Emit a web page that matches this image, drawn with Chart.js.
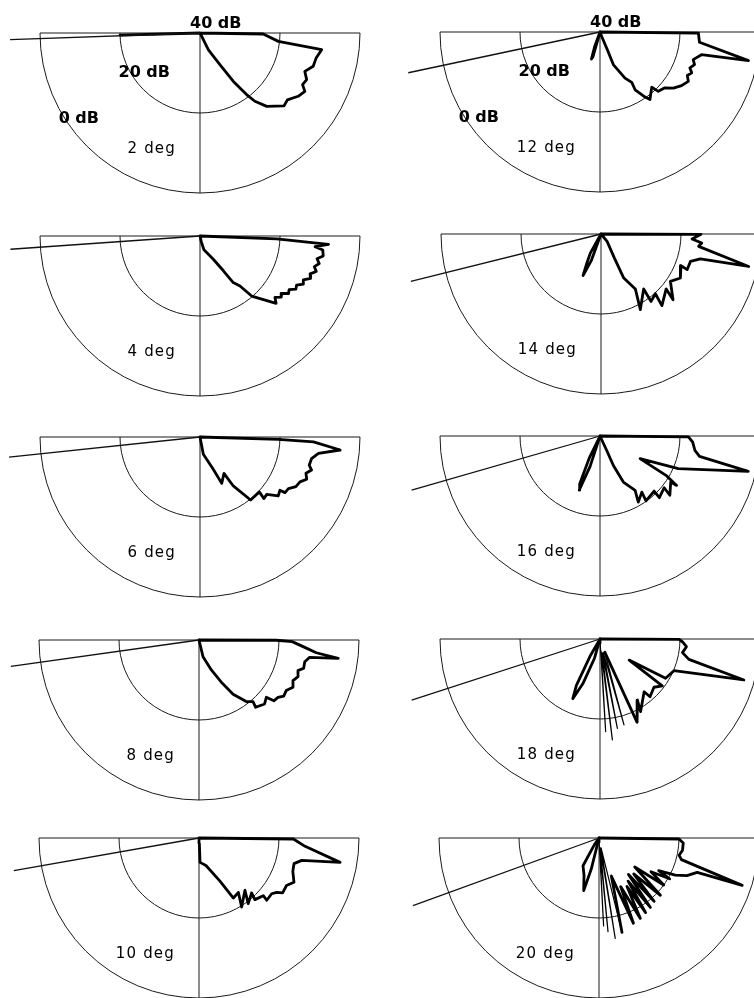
<!DOCTYPE html>
<html><head><meta charset="utf-8">
<script src="https://cdn.jsdelivr.net/npm/chart.js@4.4.1/dist/chart.umd.min.js"></script>
<style>
html,body{margin:0;padding:0;background:#fff;width:754px;height:998px;overflow:hidden;position:relative}
canvas{position:absolute}
</style></head><body>
<script>
// ---------- DATA ----------
// grazing (incidence) angle of each panel, degrees
const incidence = [2, 4, 6, 8, 10, 12, 14, 16, 18, 20];
const panelLabels = ["2 deg", "4 deg", "6 deg", "8 deg", "10 deg", "12 deg", "14 deg", "16 deg", "18 deg", "20 deg"];
// radial axis: centre = 40 dB, rings at 20 dB and 0 dB
const centreDb = 40;
const ringDb = [20, 0];
const ringLabels = ["40 dB", "20 dB", "0 dB"];

// scattered level curves: [angle below horizontal (deg, 0 = right), level (dB)]
const deg2 = [[0,40],[0.9,24.2],[6.1,20.3],[7.8,9.3],[12.2,10.3],[16.4,10.5],[20.1,12.1],[23.6,10.9],[26.7,11.3],[29.1,10.0],[32.8,10.8],[37.4,12.5],[40.9,12.2],[47.7,15.2],[51.2,18.1],[52.9,20.7],[55.4,25.3],[57.7,30.6],[63.4,35.3],[63.4,39.1],[90,40],[178.5,20],[180,40]];
const deg4 = [[0,40],[2.2,20.8],[3.7,7.8],[5.3,11.1],[6.5,9.1],[9.2,8.8],[11,10.2],[13,9.4],[15,10.4],[17,9.6],[19,10.9],[21,10.4],[23,11.9],[25,11.5],[27,12.9],[29,12.6],[31,14.0],[33,13.6],[35,15.0],[37,14.6],[39.3,15.8],[41.5,14.6],[49.3,20.2],[51.3,24.0],[54.5,25.7],[56.1,29.6],[60.3,33.3],[74,36.4],[77,38.5],[90,40]];
const deg6 = [[0,40],[1.7,20.4],[2.5,11.6],[5.3,4.8],[7.9,10.1],[11.0,11.6],[14.5,11.8],[16.5,10.9],[18.9,12.0],[21.6,11.3],[24.2,12.6],[27.4,13.0],[30.3,14.4],[33.2,14.6],[33.7,16.0],[37.0,15.5],[40.7,18.0],[43.9,17.8],[42.8,19.8],[51.2,19.8],[55.8,25.2],[56.6,29.1],[64.9,27.2],[67.6,31.3],[79.1,35.6],[90,40]];
const deg8 = [[0,40],[0.2,20.7],[1.0,16.7],[4.0,13.5],[6.2,10.5],[7.5,4.9],[8.9,12.0],[11.6,13.0],[15.1,12.9],[17.2,14.1],[20.3,13.6],[23.4,14.4],[26.7,13.7],[30.1,14.8],[33.5,14.6],[36.0,15.6],[39.1,15.9],[40.4,17.9],[44.3,17.1],[49.9,18.0],[48.8,19.5],[52.5,20.6],[57.8,24.0],[61.7,27.7],[67.6,31.9],[76.5,35.7],[90,40]];
const deg10 = [[0,40],[0.6,16.4],[4.5,13.4],[9.8,4.2],[12.3,13.7],[15.1,15.4],[19.6,15.1],[25.0,13.8],[28.5,15.1],[33.3,15.0],[35.0,16.3],[37.5,17.1],[42.6,17.0],[41.9,18.4],[47.8,19.2],[46.2,21.0],[53.1,19.5],[48.7,22.6],[58.3,19.7],[54.1,23.2],[60.2,22.7],[64.1,28.0],[75.8,32.9],[87.6,33.9],[86,38.7],[90,40]];
const deg12 = [[0,40],[0.6,15.4],[5.9,15.0],[10.9,2.2],[12.6,14.0],[16.5,15.7],[19,15.0],[21.8,15.8],[24,14.9],[26.5,15.6],[29.2,14.7],[33.3,15.6],[37.4,16.9],[40.7,18.6],[45.5,19.2],[46.8,21.1],[53.5,19.0],[55.3,20.2],[58.7,23.1],[57.8,25.1],[61.5,26.9],[67.8,31.2],[67.5,35.2],[69,38.8],[90,40],[103,40],[106,33.5],[107.5,32.9],[110,36],[112,40]];
const deg14 = [[0,40],[0.2,15.0],[3.1,17.2],[5.1,14.7],[7.2,15.4],[12.4,2.2],[14.1,14.4],[17.0,16.6],[22.5,16.7],[21.6,18.5],[29.0,17.3],[34.3,19.0],[42.4,15.6],[40.1,18.7],[49.6,16.5],[47.7,19.8],[53.4,19.0],[52.2,22.6],[62.5,18.7],[58.0,23.8],[62.7,27.6],[60.9,33.1],[50.7,37.6],[90,40],[107,40],[110,33],[113.4,28.7],[116,32],[119.3,34.6],[124,40]];
const deg16 = [[0,40],[0.6,17.9],[3.7,16.8],[8.6,16.0],[11.6,14.6],[13.4,1.9],[22.6,18.8],[29.5,28.5],[30.8,20.8],[32.8,17.2],[33.1,18.9],[40.3,17.1],[38.9,19.4],[46.1,18.6],[45.5,20.7],[54.7,20.1],[53.3,22.5],[59.9,20.9],[57.2,23.8],[63.1,27.1],[65.6,31.9],[65.1,36.0],[90,40],[105,40],[108,32],[111,25.5],[113,27],[116,34],[118,40]];
const deg18 = [[0,40],[0.2,20.3],[1.9,19.4],[5.1,18.3],[9.4,19.1],[12.9,17.2],[15.9,2.6],[23.2,19.9],[30.9,20.9],[35.9,31.0],[37.0,20.5],[41.8,21.9],[49.1,20.9],[50.1,22.8],[60.8,19.2],[58.5,22.1],[66,17.2],[70,36.5],[74.4,17.7],[76,36.5],[79,17.25],[81,36.5],[83,14.6],[85,37],[86.5,16.8],[88,39],[90,40],[104,40],[106,35],[111,28],[114.5,23.6],[117,27],[120,35],[123,40]];
const deg20 = [[0,40],[0.7,20.0],[3.4,18.9],[8.4,18.9],[12.2,19.5],[14.7,18.7],[18.3,2.3],[19.3,14],[23.2,16.1],[25.9,18.8],[28.7,23.0],[30,19.6],[33,24.5],[36,20.0],[39,28.5],[43,19.0],[46,27.5],[49,19.0],[51,28.3],[53.5,18.4],[56,27.0],[58,18.0],[60,26.0],[62.8,17.4],[66,26.7],[68,17.0],[72,30],[76.3,15.7],[78,37.5],[80.8,14.6],[82.5,37.5],[84.5,16.5],[86,37.5],[87,18],[88.5,39],[90,40],[102,40],[104,32],[106.2,26.3],[112,30],[120,32],[125,38],[130,40]];
const curves = [deg2, deg4, deg6, deg8, deg10, deg12, deg14, deg16, deg18, deg20];

// ---------- LAYOUT (pixels) ----------
const centreX = [200, 200, 200, 199, 199, 600, 601, 600, 600, 599];
const centreY = [33, 236, 437, 640, 838, 32, 234, 436, 639, 838];
const incLen = [47.5, 47.5, 48, 47.5, 47, 49, 49, 49, 49.5, 49.5]; // radial units
const W = 400, H = 210, CY = 40, PX = 4; // 4 px per radial unit

const toXY = (phi, db) => {
  const r = centreDb - db, a = phi * Math.PI / 180;
  return { x: r * Math.cos(a), y: -r * Math.sin(a) };
};
const polarOf = p => ({ r: Math.hypot(p.x, p.y), a: Math.atan2(-p.y, p.x) * 180 / Math.PI });

const gridPlugin = {
  id: 'semiGrid',
  beforeDatasetsDraw(chart) {
    const { ctx, scales: { x, y } } = chart;
    const cx = x.getPixelForValue(0), cy = y.getPixelForValue(0);
    const rad = db => x.getPixelForValue(centreDb - db) - cx;
    ctx.save();
    ctx.strokeStyle = '#1a1a1a';
    ctx.lineWidth = 1;
    ringDb.forEach(db => { ctx.beginPath(); ctx.arc(cx, cy, rad(db), 0, Math.PI); ctx.stroke(); });
    const R = rad(0);
    ctx.lineWidth = 1.2;
    ctx.beginPath(); ctx.moveTo(cx - R, cy); ctx.lineTo(cx + R, cy); ctx.stroke();
    ctx.lineWidth = 1;
    ctx.beginPath(); ctx.moveTo(cx, cy); ctx.lineTo(cx, cy + R); ctx.stroke();
    ctx.restore();
  },
  afterDraw(chart) {
    const { ctx, scales: { x, y } } = chart;
    const o = chart.options.plugins.semiGrid;
    const P = (ux, uy) => [x.getPixelForValue(ux), y.getPixelForValue(uy)];
    ctx.save();
    ctx.fillStyle = '#000';
    ctx.textBaseline = 'alphabetic';
    if (o.showRings) {
      ctx.font = 'bold 16px "DejaVu Sans"';
      let p = P(-2.5, 1.25); ctx.textAlign = 'left'; ctx.fillText(ringLabels[0], p[0], p[1]);
      ctx.textAlign = 'right';
      p = P(-7.5, -11); ctx.fillText(ringLabels[1], p[0], p[1]);
      p = P(-25.25, -22.5); ctx.fillText(ringLabels[2], p[0], p[1]);
    }
    ctx.font = '15px "DejaVu Sans"';
    try { ctx.letterSpacing = '1.2px'; } catch (e) {}
    ctx.textAlign = 'right';
    const p = P(-6, -30);
    ctx.fillText(o.label, p[0], p[1]);
    ctx.restore();
  }
};

// fine radial spikes near the vertical are drawn with a thin pen
const segWidth = ctx => {
  const a = polarOf(ctx.p0.parsed), b = polarOf(ctx.p1.parsed);
  const fine = Math.min(a.r, b.r) < 5 && Math.max(a.r, b.r) > 14 &&
    Math.min(a.a, b.a) >= 68.5 && Math.max(a.a, b.a) <= 90;
  return fine ? 1.2 : 2.8;
};

curves.forEach((curve, i) => {
  const c = document.createElement('canvas');
  c.width = W; c.height = H;
  c.style.left = (centreX[i] - W / 2) + 'px';
  c.style.top = (centreY[i] - CY) + 'px';
  c.style.width = W + 'px'; c.style.height = H + 'px';
  document.body.appendChild(c);
  const incPhi = 180 - incidence[i];
  const incEnd = toXY(incPhi, centreDb - incLen[i]);
  new Chart(c, {
    type: 'scatter',
    data: {
      datasets: [
        { data: [toXY(0, centreDb), incEnd], showLine: true, borderColor: '#111', borderWidth: 1.3, pointRadius: 0 },
        { data: curve.map(([a, d]) => toXY(a, d)), showLine: true, borderColor: '#000', borderWidth: 2.8,
          pointRadius: 0, tension: 0, borderJoinStyle: 'round', borderCapStyle: 'round',
          segment: { borderWidth: segWidth } }
      ]
    },
    options: {
      responsive: false, animation: false, devicePixelRatio: 1, events: [],
      layout: { padding: 0 },
      scales: {
        x: { type: 'linear', min: -W / 2 / PX, max: W / 2 / PX, display: false },
        y: { type: 'linear', min: -(H - CY) / PX, max: CY / PX, display: false }
      },
      plugins: {
        legend: { display: false }, tooltip: { enabled: false },
        semiGrid: { showRings: i === 0 || i === 5, label: panelLabels[i] }
      }
    },
    plugins: [gridPlugin]
  });
});
</script>
</body></html>
